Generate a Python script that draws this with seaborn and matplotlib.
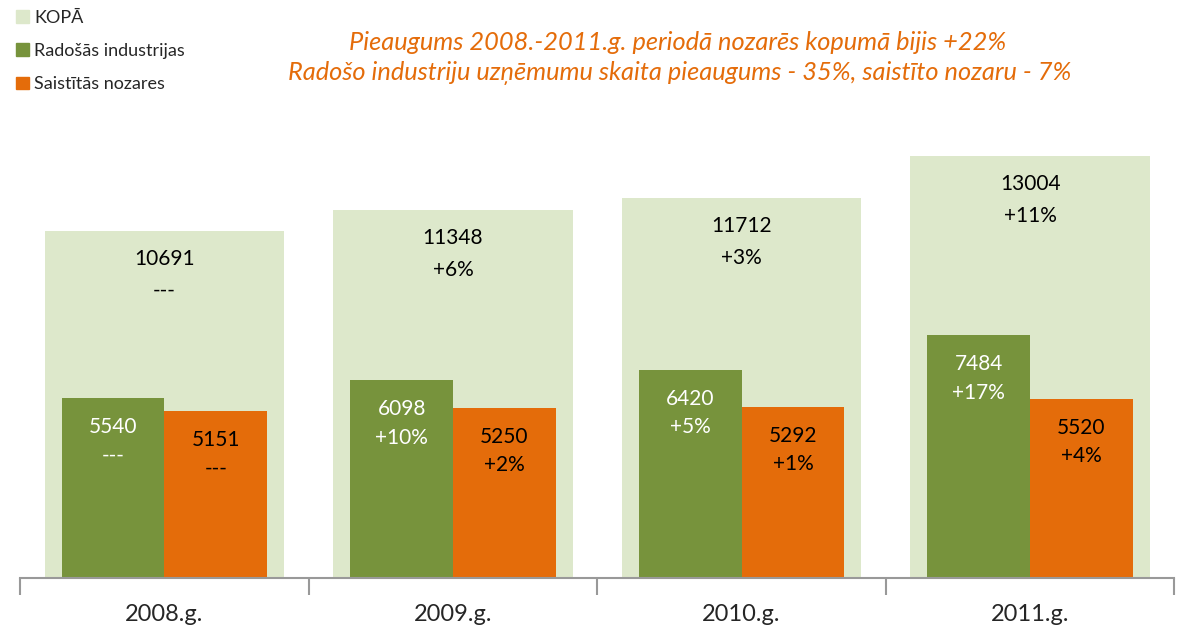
import numpy as np
import pandas as pd
import matplotlib.pyplot as plt
import seaborn as sns
from matplotlib.patches import Patch

years = ["2008.g.", "2009.g.", "2010.g.", "2011.g."]
total = [10691, 11348, 11712, 13004]
creative = [5540, 6098, 6420, 7484]
related = [5151, 5250, 5292, 5520]
total_chg = ["---", "+6%", "+3%", "+11%"]
creative_chg = ["---", "+10%", "+5%", "+17%"]
related_chg = ["---", "+2%", "+1%", "+4%"]

c_total = "#dde8cb"
c_green = "#77933c"
c_orange = "#e46c0a"

sns.set_style("white")
plt.rcParams['font.family'] = ['Lato', 'DejaVu Sans']

long = pd.DataFrame({
    "year": years * 2,
    "value": creative + related,
    "group": ["Radošās industrijas"] * 4 + ["Saistītās nozares"] * 4,
})

fig = plt.figure(figsize=(11.78, 6.27), dpi=100)
ax = fig.add_axes([0.017, 0.078, 0.98, 0.724])

sns.barplot(x=years, y=total, color=c_total, width=0.83, saturation=1,
            linewidth=0, ax=ax)
sns.barplot(data=long, x="year", y="value", hue="group",
            palette=[c_green, c_orange], width=0.712, saturation=1,
            linewidth=0, legend=False, ax=ax)

ax.set_ylim(0, 14000)
ax.set_xlim(-0.5, 3.5)
ax.set_xlabel("")
ax.set_ylabel("")
ax.set_yticks([])
for s in ["top", "right", "left"]:
    ax.spines[s].set_visible(False)
ax.spines["bottom"].set_color("#999999")
ax.spines["bottom"].set_linewidth(1.5)
ax.set_xticks(np.arange(-0.5, 4, 1), minor=True)
ax.tick_params(axis="x", which="minor", bottom=True, length=12, width=1.5,
               color="#999999", direction="out")
ax.tick_params(axis="x", which="major", bottom=False, length=0, labelsize=17, pad=19)

# value labels
for i in range(4):
    ax.text(i, total[i] - 1340, f"{total[i]}\n{total_chg[i]}", ha="center", va="center",
            fontsize=15, linespacing=1.75, color="black")
    ax.text(i - 0.178, creative[i] - 1330, f"{creative[i]}\n{creative_chg[i]}", ha="center",
            va="center", fontsize=15, linespacing=1.55, color="white")
    ax.text(i + 0.178, related[i] - 1330, f"{related[i]}\n{related_chg[i]}", ha="center",
            va="center", fontsize=15, linespacing=1.5, color="black")

handles = [Patch(color=c_total, label="KOPĀ"),
           Patch(color=c_green, label="Radošās industrijas"),
           Patch(color=c_orange, label="Saistītās nozares")]
fig.legend(handles=handles, loc="upper left", bbox_to_anchor=(0.0, 1.01), frameon=False,
           fontsize=13, handlelength=0.7, handleheight=0.7, handletextpad=0.3,
           labelspacing=0.95)

fig.text(0.575, 0.933, "Pieaugums 2008.-2011.g. periodā nozarēs kopumā bijis +22%",
         ha="center", va="center", fontsize=18.3, style="italic", color=c_orange)
fig.text(0.577, 0.883, "Radošo industriju uzņēmumu skaita pieaugums - 35%, saistīto nozaru - 7%",
         ha="center", va="center", fontsize=18.3, style="italic", color=c_orange)

fig.savefig("out.png", dpi=100)
